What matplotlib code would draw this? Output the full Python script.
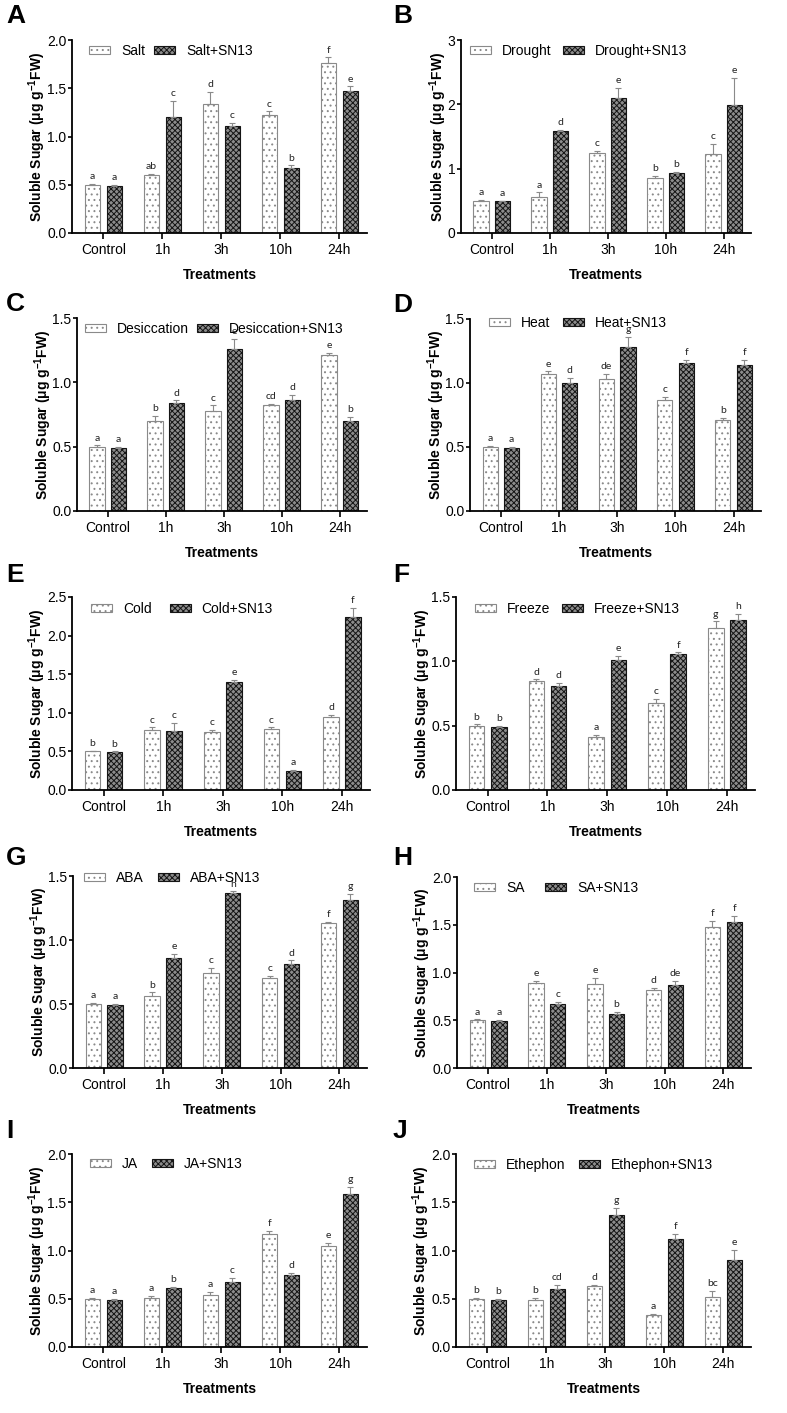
import matplotlib
matplotlib.use('Agg')
import matplotlib.pyplot as plt
import numpy as np

plt.rcParams['font.family'] = ['Liberation Sans', 'DejaVu Sans']
plt.rcParams['mathtext.fontset'] = 'custom'
plt.rcParams['mathtext.rm'] = 'Liberation Sans'
plt.rcParams['mathtext.bf'] = 'Liberation Sans:bold'
plt.rcParams['hatch.linewidth'] = 0.7

categories = ['Control', '1h', '3h', '10h', '24h']
panel_ids = ['A', 'B', 'C', 'D', 'E', 'F', 'G', 'H', 'I', 'J']
treatments = ['Salt', 'Drought', 'Desiccation', 'Heat', 'Cold',
              'Freeze', 'ABA', 'SA', 'JA', 'Ethephon']
y_max = [2.0, 3, 1.5, 1.5, 2.5, 1.5, 1.5, 2.0, 2.0, 2.0]
y_step = [0.5, 1, 0.5, 0.5, 0.5, 0.5, 0.5, 0.5, 0.5, 0.5]

stress_mean = [
    [0.50, 0.60, 1.34, 1.22, 1.76],
    [0.50, 0.56, 1.24, 0.86, 1.23],
    [0.50, 0.70, 0.78, 0.82, 1.21],
    [0.50, 1.07, 1.03, 0.87, 0.71],
    [0.50, 0.78, 0.75, 0.79, 0.95],
    [0.50, 0.85, 0.41, 0.68, 1.26],
    [0.50, 0.56, 0.74, 0.70, 1.13],
    [0.50, 0.89, 0.88, 0.82, 1.48],
    [0.50, 0.51, 0.54, 1.17, 1.05],
    [0.50, 0.49, 0.63, 0.33, 0.52],
]
stress_err = [
    [0.01, 0.01, 0.12, 0.04, 0.06],
    [0.01, 0.07, 0.04, 0.03, 0.15],
    [0.01, 0.04, 0.04, 0.01, 0.02],
    [0.01, 0.02, 0.04, 0.02, 0.02],
    [0.01, 0.03, 0.03, 0.02, 0.02],
    [0.01, 0.01, 0.02, 0.03, 0.05],
    [0.01, 0.03, 0.04, 0.02, 0.01],
    [0.01, 0.02, 0.06, 0.02, 0.06],
    [0.01, 0.02, 0.03, 0.03, 0.03],
    [0.01, 0.02, 0.01, 0.01, 0.06],
]
sn13_mean = [
    [0.49, 1.20, 1.11, 0.67, 1.47],
    [0.49, 1.58, 2.10, 0.93, 1.99],
    [0.49, 0.84, 1.26, 0.86, 0.70],
    [0.49, 1.00, 1.28, 1.16, 1.14],
    [0.49, 0.77, 1.40, 0.25, 2.24],
    [0.49, 0.81, 1.01, 1.06, 1.32],
    [0.49, 0.86, 1.37, 0.81, 1.31],
    [0.49, 0.67, 0.57, 0.87, 1.53],
    [0.49, 0.61, 0.67, 0.75, 1.59],
    [0.49, 0.60, 1.37, 1.12, 0.90],
]
sn13_err = [
    [0.01, 0.17, 0.03, 0.03, 0.05],
    [0.01, 0.02, 0.15, 0.02, 0.42],
    [0.01, 0.02, 0.08, 0.04, 0.03],
    [0.01, 0.04, 0.08, 0.02, 0.04],
    [0.01, 0.10, 0.03, 0.01, 0.12],
    [0.01, 0.02, 0.03, 0.01, 0.05],
    [0.01, 0.03, 0.01, 0.03, 0.05],
    [0.01, 0.02, 0.02, 0.04, 0.06],
    [0.01, 0.01, 0.05, 0.02, 0.07],
    [0.01, 0.04, 0.07, 0.05, 0.11],
]
stress_letters = [
    ['a', 'ab', 'd', 'c', 'f'],
    ['a', 'a', 'c', 'b', 'c'],
    ['a', 'b', 'c', 'cd', 'e'],
    ['a', 'e', 'de', 'c', 'b'],
    ['b', 'c', 'c', 'c', 'd'],
    ['b', 'd', 'a', 'c', 'g'],
    ['a', 'b', 'c', 'c', 'f'],
    ['a', 'e', 'e', 'd', 'f'],
    ['a', 'a', 'a', 'f', 'e'],
    ['b', 'b', 'd', 'a', 'bc'],
]
sn13_letters = [
    ['a', 'c', 'c', 'b', 'e'],
    ['a', 'd', 'e', 'b', 'e'],
    ['a', 'd', 'e', 'd', 'b'],
    ['a', 'd', 'g', 'f', 'f'],
    ['b', 'c', 'e', 'a', 'f'],
    ['b', 'd', 'e', 'f', 'h'],
    ['a', 'e', 'h', 'd', 'g'],
    ['a', 'c', 'b', 'de', 'f'],
    ['a', 'b', 'c', 'd', 'g'],
    ['b', 'cd', 'g', 'f', 'e'],
]

W, H = 787, 1413
# axes boxes in pixels: left, right, top, bottom
boxes = [
    (72, 367, 40, 233), (461, 751, 40, 233),
    (77, 367, 318, 511), (470, 761, 319, 511),
    (72, 370, 597, 790), (456, 755, 597, 790),
    (73, 367, 876, 1068), (457, 751, 877, 1068),
    (72, 367, 1154, 1347), (456, 751, 1154, 1347),
]
label_pos = [(6, 4), (393, 4), (6, 292), (393, 293), (6, 563), (393, 563),
             (6, 846), (393, 846), (6, 1119), (393, 1119)]
# legend: left offset from spine (px), drop below axes top (px), column gap
leg_dx = [13, 5, 4, 15, 15, 15, 7, 13, 14, 14]
leg_dy = [0, 0, 0, -7, 1, 1, -9, 0, -1, 0]
leg_gap = [0.65, 0.8, 0.55, 0.9, 1.3, 0.85, 1.0, 1.5, 1.0, 0.95]

fig = plt.figure(figsize=(W / 100, H / 100), dpi=100)

x = np.arange(len(categories))
bw = 0.26
off = 0.185

for i in range(10):
    l, r, t, b = boxes[i]
    ax = fig.add_axes([l / W, 1 - b / H, (r - l) / W, (b - t) / H])
    m1 = np.array(stress_mean[i])
    e1 = np.array(stress_err[i])
    m2 = np.array(sn13_mean[i])
    e2 = np.array(sn13_err[i])

    ax.bar(x - off, m1, bw, color='white', edgecolor='#8a8a8a', hatch='...',
           linewidth=0.8, label=treatments[i], zorder=2)
    ax.bar(x + off, m2, bw, color='#8c8c8c', edgecolor='#151515', hatch='xxxxxx',
           linewidth=0.8, label=treatments[i] + '+SN13', zorder=2)
    ax.errorbar(x - off, m1, yerr=[np.zeros(5), e1], fmt='none', ecolor='#8a8a8a',
                elinewidth=0.8, capsize=2.5, capthick=0.8, zorder=3)
    ax.errorbar(x + off, m2, yerr=[np.zeros(5), e2], fmt='none', ecolor='#8a8a8a',
                elinewidth=0.8, capsize=2.5, capthick=0.8, zorder=3)

    for j in range(5):
        ax.annotate(stress_letters[i][j], (x[j] - off, m1[j] + e1[j]),
                    xytext=(0, 2), textcoords='offset points', ha='center',
                    va='bottom', fontsize=7.5, family='Lato', color='#222222')
        ax.annotate(sn13_letters[i][j], (x[j] + off, m2[j] + e2[j]),
                    xytext=(0, 2), textcoords='offset points', ha='center',
                    va='bottom', fontsize=7.5, family='Lato', color='#222222')

    ax.set_xlim(-0.53, 4.47)
    ax.set_ylim(0, y_max[i])
    ticks = np.arange(0, y_max[i] + 1e-9, y_step[i])
    ax.set_yticks(ticks)
    if y_step[i] >= 1:
        ax.set_yticklabels(['%d' % v for v in ticks])
    else:
        ax.set_yticklabels(['%.1f' % v for v in ticks])
    ax.set_xticks(x)
    ax.set_xticklabels(categories)
    ax.tick_params(axis='x', labelsize=10, direction='out', length=4,
                   width=1.2, pad=3)
    ax.tick_params(axis='y', labelsize=10, direction='out', length=3,
                   width=1.2, pad=1)

    for s in ['top', 'right']:
        ax.spines[s].set_visible(False)
    for s in ['left', 'bottom']:
        ax.spines[s].set_linewidth(1.3)

    ax.set_xlabel('Treatments', fontsize=10, fontweight='bold', labelpad=8)
    ax.set_ylabel(r'Soluble Sugar (μg g$^{\mathbf{-1}}$FW)', fontsize=10,
                  fontweight='bold', labelpad=-1)

    axw = r - l
    axh = b - t
    ax.legend(loc='upper left',
              bbox_to_anchor=(leg_dx[i] / axw, 1 - leg_dy[i] / axh), ncol=2,
              frameon=False, fontsize=10, handlelength=1.5, handleheight=0.45,
              handletextpad=0.8, columnspacing=leg_gap[i], borderaxespad=0,
              borderpad=0.3)

    fig.text(label_pos[i][0] / W, 1 - label_pos[i][1] / H, panel_ids[i],
             fontsize=19, fontweight='bold', va='top', ha='left')

fig.savefig('out.png', dpi=100)
